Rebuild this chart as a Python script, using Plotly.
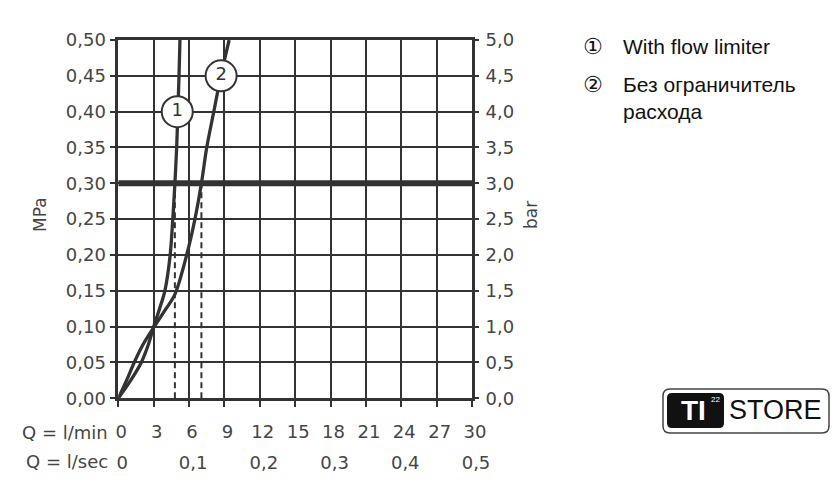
import plotly.graph_objects as go

# ---------------- data ----------------
# curve 1: with flow limiter  (pressure MPa -> flow l/min)
p_1 = [0, 0.025, 0.05, 0.075, 0.10, 0.125, 0.15, 0.20, 0.25, 0.30, 0.35, 0.40, 0.45, 0.50]
q_1 = [0, 1.05, 1.95, 2.55, 3.0, 3.5, 3.95, 4.4, 4.62, 4.8, 4.95, 5.05, 5.15, 5.23]
# curve 2: without flow limiter
p_2 = [0, 0.025, 0.05, 0.075, 0.10, 0.125, 0.145, 0.20, 0.25, 0.30, 0.35, 0.40, 0.45, 0.50]
q_2 = [0, 0.7, 1.35, 2.1, 3.05, 4.05, 4.8, 5.8, 6.5, 7.05, 7.5, 8.1, 8.7, 9.4]

ref_pressure_bar = 3.0          # bold reference line
ref_pressure_mpa = 0.30
label_text = ["1", "2"]
label_q = [5.0, 8.72]
label_p = [0.40, 0.45]

q_range = [0, 30]
qsec_range = [0, 0.5]
p_range = [0, 0.5]
bar_range = [0, 5]

legend_items = ["With flow limiter", "Без ограничитель<br>расхода"]

# ---------------- figure ----------------
W, H = 840, 494
INK = "#333333"
TXT = "#454545"
TICKFONT = dict(family="DejaVu Sans", size=18, color=TXT)

def px(x):
    return x / W

def py(y):
    return 1 - y / H

xdom = [px(118.3), px(472)]
ydom = [py(398.3), py(40)]

fig = go.Figure()

# bold reference line (bar axis)
fig.add_trace(go.Scatter(x=q_range, y=[ref_pressure_bar, ref_pressure_bar], yaxis="y2",
                         mode="lines", line=dict(color=INK, width=6), hoverinfo="skip"))

# dashed drop lines at the flow reached at the reference pressure
for pp, qq in ((p_1, q_1), (p_2, q_2)):
    qv = qq[pp.index(ref_pressure_mpa)]
    fig.add_trace(go.Scatter(x=[qv, qv], y=[0, ref_pressure_mpa], mode="lines",
                             line=dict(color=INK, width=2, dash="6px,4px"), hoverinfo="skip"))

# curves
for pp, qq in ((p_1, q_1), (p_2, q_2)):
    fig.add_trace(go.Scatter(x=qq, y=pp, mode="lines",
                             line=dict(color=INK, width=3.3, shape="spline", smoothing=0.9),
                             hoverinfo="skip"))

# circled curve labels
fig.add_trace(go.Scatter(x=label_q, y=label_p, mode="markers+text", text=label_text,
                         textposition="middle center",
                         textfont=dict(family="DejaVu Sans", size=18, color=INK),
                         marker=dict(size=31, color="white", line=dict(color=INK, width=2)),
                         hoverinfo="skip"))

# invisible trace to carry l/sec axis
fig.add_trace(go.Scatter(x=qsec_range, y=[0, 0], xaxis="x2", mode="lines",
                         line=dict(width=0), opacity=0, hoverinfo="skip"))

fig.update_layout(
    width=W, height=H, autosize=False,
    margin=dict(l=0, r=0, t=0, b=0, pad=0),
    paper_bgcolor="white", plot_bgcolor="white",
    showlegend=False,
    separators=", ",
    xaxis=dict(domain=xdom, range=q_range, dtick=3, tick0=0, automargin=False,
               showgrid=True, gridcolor=INK, gridwidth=2,
               showline=True, linecolor=INK, linewidth=2.5, mirror=True,
               ticks="outside", ticklen=6, tickwidth=2, tickcolor=INK,
               zeroline=False, tickfont=TICKFONT, ticklabelstandoff=9, ticklabelshift=3),
    xaxis2=dict(overlaying="x", anchor="free", position=ydom[0], side="bottom", automargin=False,
                domain=xdom, range=qsec_range, dtick=0.1, tick0=0, tickformat=".1~f",
                showgrid=False, showline=False, ticks="", zeroline=False,
                tickfont=TICKFONT, ticklabelstandoff=52, ticklabelshift=4),
    yaxis=dict(domain=ydom, range=p_range, dtick=0.05, tick0=0, tickformat=".2f", automargin=False,
               showgrid=True, gridcolor=INK, gridwidth=2,
               showline=True, linecolor=INK, linewidth=2.5, mirror=True,
               ticks="outside", ticklen=6, tickwidth=2, tickcolor=INK,
               zeroline=False, tickfont=TICKFONT),
    yaxis2=dict(overlaying="y", side="right", range=bar_range, dtick=0.5, tick0=0, automargin=False,
                tickformat=".1f", showgrid=False, showline=False, zeroline=False,
                ticks="outside", ticklen=6, tickwidth=2, tickcolor=INK,
                tickfont=TICKFONT, ticklabelstandoff=3),
)

def note(x, y, text, font, xanchor="center", yanchor="middle", **kw):
    return dict(x=px(x), y=py(y), xref="paper", yref="paper", text=text, showarrow=False,
                xanchor=xanchor, yanchor=yanchor, font=font, **kw)

ann = []
ann.append(note(40, 215, "MPa", dict(family="DejaVu Sans", size=17, color=TXT), textangle=-90))
ann.append(note(531, 215, "bar", dict(family="DejaVu Sans", size=17, color=TXT), textangle=-90))
ann.append(note(110, 432, "Q = l/min", TICKFONT, xanchor="right"))
ann.append(note(110, 461, "Q = l/sec", TICKFONT, xanchor="right"))

# legend text
leg_font = dict(family="Liberation Sans, Arial", size=21, color="#111111")
circ_font = dict(family="DejaVu Sans", size=22, color="#111111")
ann.append(note(593, 47, "\u2460", circ_font))
ann.append(note(593, 84, "\u2461", circ_font))
ann.append(note(621, 47, legend_items[0], leg_font, xanchor="left"))
ann.append(note(621, 98, legend_items[1], leg_font, xanchor="left", align="left"))

# logo text
ann.append(note(693, 410, "<b>TI</b>", dict(family="Liberation Sans, Arial", size=28, color="white")))
ann.append(note(715, 399, "22", dict(family="Liberation Sans, Arial", size=8, color="white")))
ann.append(note(775, 410, "STORE", dict(family="Liberation Sans, Arial", size=27, color="#111111")))
fig.update_layout(annotations=ann)

def rrect(x0, y0, x1, y1, r):
    pts = [
        f"M {px(x0 + r)},{py(y0)}",
        f"L {px(x1 - r)},{py(y0)}",
        f"Q {px(x1)},{py(y0)} {px(x1)},{py(y0 + r)}",
        f"L {px(x1)},{py(y1 - r)}",
        f"Q {px(x1)},{py(y1)} {px(x1 - r)},{py(y1)}",
        f"L {px(x0 + r)},{py(y1)}",
        f"Q {px(x0)},{py(y1)} {px(x0)},{py(y1 - r)}",
        f"L {px(x0)},{py(y0 + r)}",
        f"Q {px(x0)},{py(y0)} {px(x0 + r)},{py(y0)}",
        "Z",
    ]
    return " ".join(pts)

fig.add_shape(type="path", xref="paper", yref="paper", path=rrect(663, 389, 829, 433, 7),
              line=dict(color="#444444", width=1.5), fillcolor="white", layer="below")
fig.add_shape(type="path", xref="paper", yref="paper", path=rrect(667, 393, 724, 428, 5),
              line=dict(color="#111111", width=0), fillcolor="#111111", layer="below")

fig.write_html("out.html",
               config={"responsive": False, "displayModeBar": False},
               post_script="document.body.style.margin='0';document.body.style.overflow='hidden';")
